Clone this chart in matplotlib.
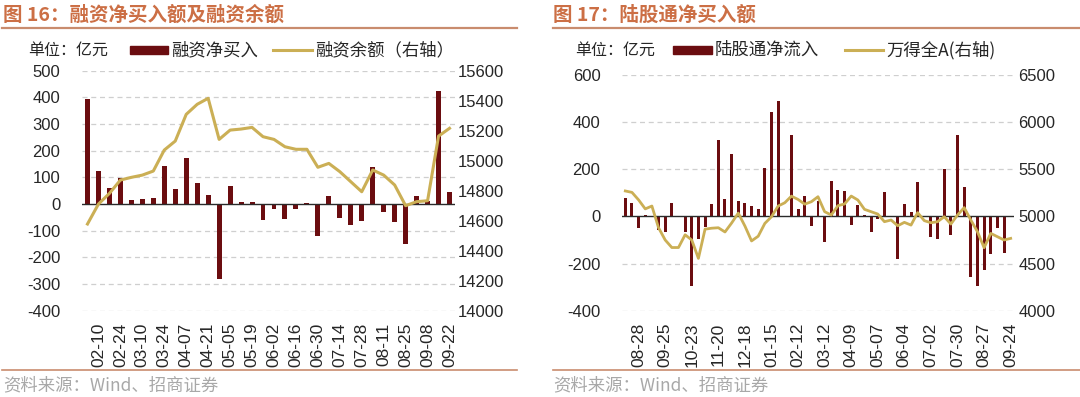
import numpy as np
import pandas as pd
import matplotlib
matplotlib.use("Agg")
import matplotlib.pyplot as plt
from matplotlib.lines import Line2D
from matplotlib.patches import Rectangle

# ---------------- data ----------------
# Figure 16: margin financing (weekly, 2023)
left_dates = pd.date_range("2023-02-03", periods=34, freq="7D").strftime("%m-%d").tolist()
left_ticklabels = ["02-10", "02-24", "03-10", "03-24", "04-07", "04-21", "05-05", "05-19",
                   "06-02", "06-16", "06-30", "07-14", "07-28", "08-11", "08-25", "09-08", "09-22"]
margin_net_buy = [393, 125, 60, 97, 15, 19, 24, 142, 55, 174, 77, 32, -280, 66, 6, 7, -61,
                  -17, -57, -17, 2, -119, 29, -51, -79, -65, 140, -29, -66, -149, 29, 11, 424, 46]
margin_balance = [14578, 14711, 14782, 14871, 14889, 14904, 14931, 15071, 15131, 15309, 15376,
                  15416, 15142, 15204, 15211, 15222, 15160, 15142, 15093, 15076, 15076, 14956,
                  14982, 14927, 14860, 14793, 14938, 14904, 14838, 14700, 14727, 14733, 15164, 15216]

# Figure 17: northbound flows (weekly, 2020-2021)
right_dates = pd.date_range("2020-08-14", periods=59, freq="7D").strftime("%m-%d").tolist()
right_ticklabels = ["08-28", "09-25", "10-23", "11-20", "12-18", "01-15", "02-12", "03-12",
                    "04-09", "05-07", "06-04", "07-02", "07-30", "08-27", "09-24"]
north_net_flow = [78, 59, -50, 7, 2, -57, -64, 59, -2, -64, -297, -95, -45, 54, 325, 76, 266,
                  66, 59, 45, 31, 204, 443, 488, 2, 344, 31, 85, -42, 66, -109, 149, 110, 106,
                  -35, 47, 6, -68, -11, 102, 2, -181, 52, 18, 144, -2, -88, -95, 201, -78, 347,
                  126, -259, -294, -226, -160, -50, -156, 0]
wind_all_a = [5270, 5255, 5175, 5080, 5110, 4880, 4750, 4670, 4670, 4805, 4750, 4555, 4865, 4875,
              4880, 4835, 4930, 5035, 4898, 4740, 4790, 4926, 4997, 5110, 5145, 5215, 5180, 5130,
              5156, 5209, 5050, 5015, 5114, 5132, 5216, 5174, 5075, 5050, 5025, 4944, 4962, 4901,
              4937, 4908, 5040, 4955, 4933, 4944, 4997, 4919, 5015, 5093, 4962, 4838, 4668, 4820,
              4785, 4750, 4767]

# ---------------- style ----------------
W, H = 1080, 397
BAR_C = "#6B0D10"
LINE_C = "#CBAF55"
TITLE_C = "#CC6F45"
RULE_C = "#C98C6E"
GRID_C = "#CFCFCF"
TXT_C = "#262626"
SRC_C = "#A8A8A8"
CJK = ["Noto Sans CJK SC", "DejaVu Sans"]
NUM = "Liberation Sans"

plt.rcParams["font.family"] = CJK

fig = plt.figure(figsize=(W / 100, H / 100), dpi=100)
fig.patch.set_facecolor("white")


def fx(px):
    return px / W


def fy(py):
    return 1 - py / H


def axes_px(x0, y0, x1, y1):
    return fig.add_axes([fx(x0), fy(y1), (x1 - x0) / W, (y1 - y0) / H])


def style_axes(ax, ax2, ylim, y2lim, yticks, y2ticks, xlim):
    for a in (ax, ax2):
        for s in a.spines.values():
            s.set_visible(False)
        a.set_facecolor("none")
    ax.set_ylim(*ylim)
    ax2.set_ylim(*y2lim)
    ax.set_xlim(*xlim)
    ax.set_yticks(yticks)
    ax.set_yticklabels([str(v) for v in yticks], family=NUM, fontsize=12, color=TXT_C)
    ax2.set_yticks(y2ticks)
    ax2.set_yticklabels([str(v) for v in y2ticks], family=NUM, fontsize=12, color=TXT_C)
    ax.tick_params(axis="y", length=0, pad=15.5)
    ax2.tick_params(axis="y", length=0, pad=2)
    ax.tick_params(axis="x", length=0, pad=8.5)
    for v in yticks:
        if v == 0:
            continue
        ax.axhline(v, color=GRID_C, lw=0.9, ls=(0, (4, 3)), zorder=0)
    ax.axhline(0, color="#2A2A2A", lw=1.0, zorder=3)
    ax.set_zorder(ax2.get_zorder() - 1)
    ax.patch.set_visible(False)


# ---------------- left chart ----------------
axL = axes_px(82, 70.7, 455, 310.7)
axL2 = axL.twinx()
xL = np.arange(len(left_dates))
axL.bar(xL, margin_net_buy, width=0.45, color=BAR_C, zorder=2)
axL2.plot(xL, margin_balance, color=LINE_C, lw=2.2, solid_joinstyle="round", zorder=4)
style_axes(axL, axL2, (-400, 500), (14000, 15600),
           list(range(-400, 501, 100)), list(range(14000, 15601, 200)), (-0.5, len(xL) - 0.5))
lt_pos = [i for i, d in enumerate(left_dates) if d in left_ticklabels]
axL.set_xticks(lt_pos)
axL.set_xticklabels([left_dates[i] for i in lt_pos], rotation=90, family=NUM,
                    fontsize=12.5, color=TXT_C)

# ---------------- right chart ----------------
axR = axes_px(622, 75, 1014, 310.7)
axR2 = axR.twinx()
xR = np.arange(len(right_dates))
axR.bar(xR, north_net_flow, width=0.45, color=BAR_C, zorder=2)
axR2.plot(xR, wind_all_a, color=LINE_C, lw=2.0, solid_joinstyle="round", zorder=4)
style_axes(axR, axR2, (-400, 600), (4000, 6500),
           list(range(-400, 601, 200)), list(range(4000, 6501, 500)), (-0.5, len(xR) - 0.5))
axR2.tick_params(axis="y", pad=3)
rt_pos = [2 + 4 * k for k in range(len(right_ticklabels))]
axR.set_xticks(rt_pos)
axR.set_xticklabels(right_ticklabels, rotation=90, family=NUM, fontsize=12.5, color=TXT_C)

# ---------------- titles, rules, sources ----------------
fig.text(fx(3), fy(15), "图 16：融资净买入额及融资余额", fontsize=14, weight="bold",
         color=TITLE_C, va="center", ha="left")
fig.text(fx(553), fy(15), "图 17：陆股通净买入额", fontsize=14, weight="bold",
         color=TITLE_C, va="center", ha="left")
for (a, b) in [(2, 517), (553, 1080)]:
    fig.add_artist(Line2D([fx(a), fx(b)], [fy(27.5), fy(27.5)], color=RULE_C, lw=1.6))
    fig.add_artist(Line2D([fx(a), fx(b)], [fy(370), fy(370)], color=RULE_C, lw=1.2))
fig.text(fx(3), fy(385), "资料来源：Wind、招商证券", fontsize=12.5, color=SRC_C,
         va="center", ha="left")
fig.text(fx(553), fy(385), "资料来源：Wind、招商证券", fontsize=12.5, color=SRC_C,
         va="center", ha="left")

# ---------------- legends (manual) ----------------
def legend_row(y, unit_x, bar_x0, bar_x1, bar_label, line_x0, line_x1, line_label):
    fig.text(fx(unit_x), fy(y), "单位：亿元", fontsize=11.5, color=TXT_C, va="center", ha="left")
    fig.add_artist(Rectangle((fx(bar_x0), fy(y + 4)), (bar_x1 - bar_x0) / W, 8 / H,
                             color=BAR_C, transform=fig.transFigure))
    fig.text(fx(bar_x1 + 3), fy(y), bar_label, fontsize=12.5, color=TXT_C, va="center", ha="left")
    fig.add_artist(Line2D([fx(line_x0), fx(line_x1)], [fy(y), fy(y)], color=LINE_C, lw=2.2))
    fig.text(fx(line_x1 + 3), fy(y), line_label, fontsize=12.5, color=TXT_C,
             va="center", ha="left")


legend_row(50, 28, 130, 168, "融资净买入", 273, 312, "融资余额（右轴）")
legend_row(50, 575, 673, 712, "陆股通净流入", 845, 883, "万得全A(右轴)")

fig.savefig("out.png", dpi=100, facecolor="white")
